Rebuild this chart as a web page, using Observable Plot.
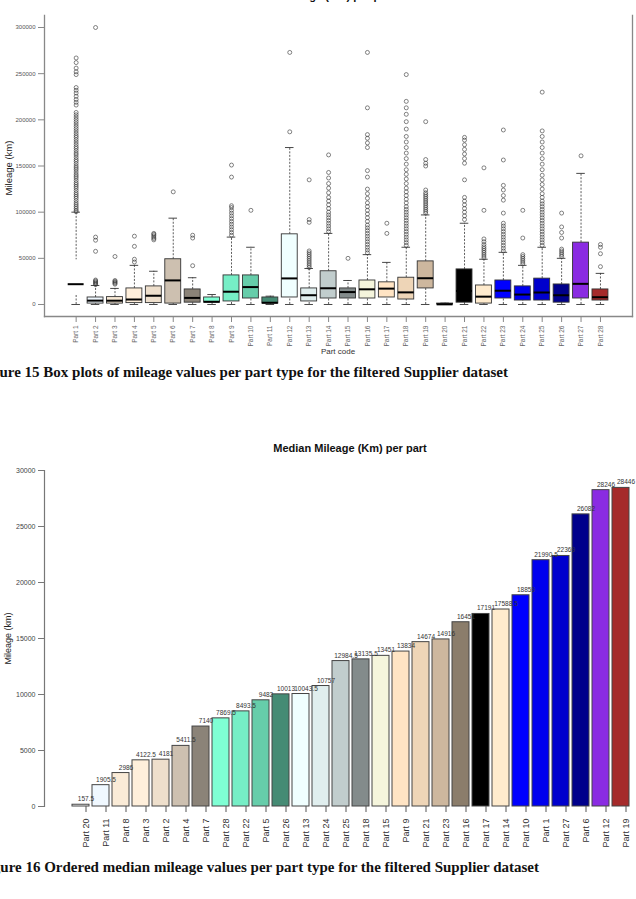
<!DOCTYPE html>
<html>
<head>
<meta charset="utf-8">
<script src="https://cdn.jsdelivr.net/npm/d3@7"></script>
<script src="https://cdn.jsdelivr.net/npm/@observablehq/plot@0.6"></script>
<style>
  body { margin: 0; background: #fff; }
  #page { position: relative; width: 636px; height: 899px; overflow: hidden; background: #fff;
          font-family: "Liberation Sans", Arial, sans-serif; }
  .abs { position: absolute; white-space: nowrap; }
  .cap { position: absolute; white-space: nowrap; text-align: right; font-family: "Liberation Serif", "Times New Roman", serif;
         font-weight: bold; font-size: 15px; line-height: 15px; color: #111; }
  .ttl { position: absolute; text-align: center; font-weight: bold; font-size: 11px; line-height: 11px; color: #111; }
  .ylab { position: absolute; text-align: center; transform: rotate(-90deg); color: #222; }
  #chart1 { position: absolute; left: 0; top: 0; }
  #chart2 { position: absolute; left: 0; top: 460px; }
</style>
</head>
<body>
<div id="page">
  <div id="chart1"></div>
  <div id="chart2"></div>
  <div class="ttl" style="left:138px; width:400px; top:-9px;">Mileage (Km) per part</div>
  <div class="ylab" style="left:-41.5px; width:100px; top:163px; font-size:9.5px; line-height:10px;">Mileage (km)</div>
  <div class="abs" style="left:288px; width:100px; text-align:center; top:348px; font-size:8px; line-height:8px; color:#333;">Part code</div>
  <div class="cap" style="right:128px; top:365.4px;">Figure 15 Box plots of mileage values per part type for the filtered Supplier dataset</div>
  <div class="ttl" style="left:150px; width:400px; top:442.7px;">Median Mileage (Km) per part</div>
  <div class="ylab" style="left:-42px; width:100px; top:633.5px; font-size:9px; line-height:9px;">Mileage (km)</div>
  <div class="cap" style="right:97px; top:860.4px;">Figure 16 Ordered median mileage values per part type for the filtered Supplier dataset</div>
</div>
<script>
// ---------- Figure 15: box plots per part (Part 1 .. Part 28) ----------
const parts = [1, 2, 3, 4, 5, 6, 7, 8, 9, 10, 11, 12, 13, 14, 15, 16, 17, 18, 19, 20, 21, 22, 23, 24, 25, 26, 27, 28];
const partColors = ["#FFFFFF", "#F0F8FF", "#FAEBD7", "#FFEFDB", "#EEDFCC", "#CDC0B0", "#8B8378", "#7FFFD4",
  "#76EEC6", "#66CDAA", "#458B74", "#F0FFFF", "#E0EEEE", "#C1CDCD", "#838B8B", "#F5F5DC", "#FFE4C4", "#EED5B7",
  "#CDB79E", "#8B7D6B", "#000000", "#FFEBCD", "#0000FF", "#0000EE", "#0000CD", "#00008B", "#8A2BE2", "#A52A2A"];
const medianByPart = [21990.5, 4181, 4122.5, 5411.5, 9482, 26082, 7140, 2986, 13834, 18859, 1905.5, 28246, 10043.5, 17588.5,
  13451, 16451, 17191, 13135.5, 28446, 157.5, 14674, 8493.5, 14916, 10757, 12984.5, 10013, 22369, 7869.5];
const q1ByPart = [10900, 1000, 1000, 1500, 1500, 1000, 2000, 2000, 3300, 6500, 1000, 7600, 3300, 6500,
  6500, 6500, 7600, 5400, 17400, 0, 2000, 1000, 6500, 4300, 4300, 2000, 6500, 4300];
const q3ByPart = [47800, 7600, 8000, 17400, 19600, 49000, 16300, 7600, 31500, 31500, 7600, 76000, 17400, 36000,
  17400, 26000, 24000, 29000, 46700, 1000, 38000, 20600, 26000, 19600, 28000, 21700, 67000, 16300];
const whiskerLow = [0, 0, 0, 0, 0, 0, 0, 0, 0, 0, 0, 0, 0, 0, 0, 0, 0, 0, 0, 0, 0, 0, 0, 0, 0, 0, 0, 0];
const whiskerHigh = [100000, 20600, 17400, 42400, 36000, 93500, 29000, 10800, 73000, 62000, 9000, 170000, 39000, 77000,
  26000, 54000, 45600, 62000, 97000, 1500, 88000, 49000, 56500, 42400, 62000, 50000, 142000, 33700];
const outliers = [
  [100500, 102000, 104000, 106000, 108000, 110000, 112500, 115000, 117000, 119000, 121000, 123500, 126000, 128000, 130000,
   132000, 134500, 137000, 139000, 141000, 143500, 146000, 148000, 150000, 152500, 155000, 157000, 159500, 162000, 164000,
   166500, 169000, 171000, 173500, 176000, 178500, 181000, 183000, 185500, 188000, 190500, 193000, 195500, 198000, 200500,
   203000, 205500, 208000, 216000, 219000, 222000, 225500, 229000, 232000, 235000, 249000, 252000, 256000, 262000, 267000],
  [21500, 22500, 23500, 24500, 25500, 26500, 57600, 69600, 73000, 300000],
  [22000, 23000, 24000, 25000, 26000, 52000],
  [46000, 49000, 63000, 74000],
  [70000, 71500, 73000, 74500, 76000, 77000],
  [122000],
  [42000, 72000, 75000],
  [],
  [75000, 78000, 81000, 84000, 87000, 90000, 93000, 96000, 99000, 102000, 105000, 107000, 138000, 151000],
  [102000],
  [],
  [187000, 273000],
  [40000, 42000, 44000, 46000, 48000, 50000, 52000, 54000, 56000, 58000, 89000, 92000, 135000],
  [79000, 82000, 85000, 88000, 91000, 94000, 97000, 100000, 104000, 108000, 112000, 116000, 121000, 126000, 131000,
   137000, 143000, 162000],
  [50000],
  [56000, 59000, 62000, 65000, 68000, 71000, 74000, 77000, 80000, 83000, 86000, 90000, 94000, 98000, 102000, 106000,
   110000, 115000, 120000, 125000, 138000, 145000, 170000, 175000, 180000, 184000, 213000, 273000],
  [77000, 88000],
  [64000, 67000, 70000, 73000, 76000, 79000, 82000, 85000, 88000, 91000, 94000, 97000, 100000, 103000, 106000, 110000,
   114000, 118000, 122000, 126000, 131000, 136000, 141000, 146000, 152000, 158000, 164000, 170000, 176000, 182000,
   190000, 198000, 206000, 213000, 220000, 249000],
  [99000, 101000, 103000, 105000, 107000, 109000, 111000, 113000, 115000, 117000, 119000, 121000, 124000, 150000,
   153000, 157000, 198000],
  [],
  [92000, 96000, 100000, 104000, 108000, 112000, 116000, 135000, 153000, 158000, 163000, 168000, 173000, 178000, 181000],
  [50500, 52500, 54500, 56500, 58500, 60500, 62500, 65000, 68000, 71000, 102000, 148000],
  [58000, 61000, 64000, 67000, 70000, 73000, 76000, 79000, 82000, 85000, 88000, 99000, 113000, 118000, 124000, 129000,
   156500, 189000],
  [44000, 46000, 48000, 50000, 52000, 54000, 72000, 102000],
  [64000, 67000, 70000, 73000, 76000, 79000, 82000, 85000, 88000, 91000, 94000, 97000, 100000, 103000, 106000, 109000,
   112000, 116000, 120000, 125000, 130000, 135000, 140000, 146000, 152000, 158000, 164000, 170000, 176000, 182000,
   188000, 230000],
  [52000, 54000, 56000, 58000, 60000, 72000, 78000, 84000, 99000],
  [161000],
  [41000, 55000, 62000, 65000]
];
const boxYTicks = [0, 50000, 100000, 150000, 200000, 250000, 300000];

// ---------- Figure 16: ordered medians ----------
const rankedParts = ["Part 20", "Part 11", "Part 8", "Part 3", "Part 2", "Part 4", "Part 7", "Part 28", "Part 22", "Part 5",
  "Part 26", "Part 13", "Part 24", "Part 25", "Part 18", "Part 15", "Part 9", "Part 21", "Part 23", "Part 16", "Part 17",
  "Part 14", "Part 10", "Part 1", "Part 27", "Part 6", "Part 12", "Part 19"];
const rankedMedians = [157.5, 1905.5, 2986, 4122.5, 4181, 5411.5, 7140, 7869.5, 8493.5, 9482, 10013, 10043.5, 10757,
  12984.5, 13135.5, 13451, 13834, 14674, 14916, 16451, 17191, 17588.5, 18859, 21990.5, 22369, 26082, 28246, 28446];
const rankedColors = ["#FFFFFF", "#F0F8FF", "#FAEBD7", "#FFEFDB", "#EEDFCC", "#CDC0B0", "#8B8378", "#7FFFD4", "#76EEC6",
  "#66CDAA", "#458B74", "#F0FFFF", "#E0EEEE", "#C1CDCD", "#838B8B", "#F5F5DC", "#FFE4C4", "#EED5B7", "#CDB79E", "#8B7D6B",
  "#000000", "#FFEBCD", "#0000FF", "#0000EE", "#0000CD", "#00008B", "#8A2BE2", "#A52A2A"];
const barYTicks = [0, 5000, 10000, 15000, 20000, 25000, 30000];

// ---------- build chart 1 ----------
const boxes = parts.map((p, i) => ({
  part: p, color: partColors[i], median: medianByPart[i], q1: q1ByPart[i], q3: q3ByPart[i],
  lo: whiskerLow[i], hi: whiskerHigh[i]
}));
const outlierRows = outliers.flatMap((vals, i) => vals.map(v => ({part: parts[i], value: v})));
const hw = 0.41, cw = 0.22;

const chart1 = Plot.plot({
  width: 636, height: 360,
  marginTop: 15, marginBottom: 44, marginLeft: 44, marginRight: 4,
  style: {background: "transparent", fontFamily: "Liberation Sans, Arial, sans-serif"},
  x: {type: "linear", domain: [-0.63, 29.65]},
  y: {domain: [-13000, 313000]},
  color: {type: "identity"},
  marks: [
    Plot.frame({anchor: "left", stroke: "#888", strokeWidth: 1.3}),
    Plot.frame({anchor: "bottom", stroke: "#888", strokeWidth: 1.3}),
    Plot.frame({anchor: "right", stroke: "#888", strokeWidth: 1.3}),
    Plot.ruleX(boxes, {x: "part", y1: "q3", y2: "hi", stroke: "#333", strokeWidth: 0.8, strokeDasharray: "2,1.5"}),
    Plot.ruleX(boxes, {x: "part", y1: "lo", y2: "q1", stroke: "#333", strokeWidth: 0.8, strokeDasharray: "2,1.5"}),
    Plot.ruleY(boxes, {y: "hi", x1: d => d.part - cw, x2: d => d.part + cw, stroke: "#333", strokeWidth: 0.9}),
    Plot.ruleY(boxes, {y: "lo", x1: d => d.part - cw, x2: d => d.part + cw, stroke: "#333", strokeWidth: 0.9}),
    Plot.rect(boxes, {x1: d => d.part - hw, x2: d => d.part + hw, y1: "q1", y2: "q3", fill: "color",
      stroke: d => d.color === "#FFFFFF" ? "#FFFFFF" : "#333", strokeWidth: 0.9}),
    Plot.ruleY(boxes, {y: "median", x1: d => d.part - hw, x2: d => d.part + hw, stroke: "#000", strokeWidth: 2}),
    Plot.dot(outlierRows, {x: "part", y: "value", r: 2, stroke: "#333", strokeWidth: 0.6, fill: "none"}),
    Plot.axisY({ticks: boxYTicks, tickFormat: d3.format("d"), tickSize: 6, tickPadding: 3, fontSize: 6,
      stroke: "#888", fill: "#555", label: null}),
    Plot.axisX({ticks: parts, tickFormat: d => "Part " + d, tickRotate: -90, tickSize: 6, tickPadding: 3, fontSize: 6.5,
      stroke: "#888", fill: "#666", label: null})
  ]
});
document.getElementById("chart1").appendChild(chart1);

// ---------- build chart 2 ----------
const bars = rankedParts.map((p, i) => ({part: p, value: rankedMedians[i], color: rankedColors[i], label: String(rankedMedians[i])}));

const chart2 = Plot.plot({
  width: 636, height: 400,
  marginTop: 10, marginBottom: 54, marginLeft: 44, marginRight: 2,
  style: {background: "transparent", fontFamily: "Liberation Sans, Arial, sans-serif"},
  x: {type: "band", domain: rankedParts, range: [65.8, 634], paddingInner: 0.1667, paddingOuter: 0.0833, align: 0.5},
  y: {domain: [0, 30000]},
  color: {type: "identity"},
  marks: [
    Plot.frame({anchor: "left", stroke: "#777", strokeWidth: 1.2}),
    Plot.barY(bars, {x: "part", y: "value", fill: "color", stroke: "#444", strokeWidth: 1}),
    Plot.text(bars, {x: "part", y: "value", text: "label", dx: 5, dy: -3.5, lineAnchor: "bottom", fontSize: 6.5, fill: "#333"}),
    Plot.axisY({ticks: barYTicks, tickFormat: d3.format("d"), tickSize: 6, tickPadding: 3, fontSize: 7,
      stroke: "#777", fill: "#444", label: null}),
    Plot.axisX({tickRotate: -90, tickSize: 6, tickPadding: 6, fontSize: 9, dx: 5, stroke: "#555", fill: "#333", label: null})
  ]
});
document.getElementById("chart2").appendChild(chart2);
</script>
</body>
</html>
